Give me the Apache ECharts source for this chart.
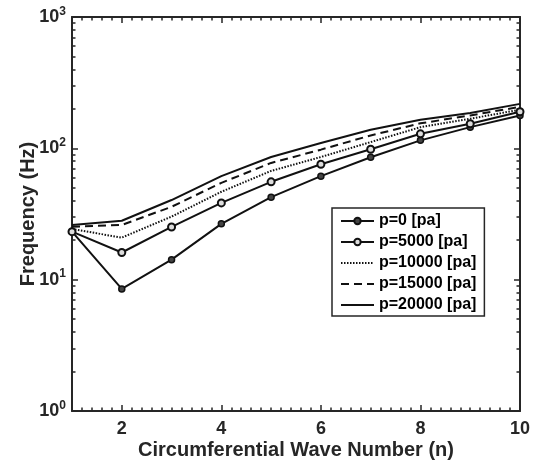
<!DOCTYPE html>
<html>
<head>
<meta charset="utf-8">
<script src="https://cdn.jsdelivr.net/npm/echarts@6/dist/echarts.min.js"></script>
<style>html,body{margin:0;padding:0;background:#fff;}#c{width:536px;height:465px;}</style>
</head>
<body>
<div id="c"></div>
<script>
// ---- data ----
const waveNumbers = [1, 2, 3, 4, 5, 6, 7, 8, 9, 10];
const p0     = [23.2, 8.5, 14.2, 26.6, 42.5, 61.4, 85.5, 115, 145, 178];
const p5000  = [23.2, 16.1, 25.2, 38.4, 55.6, 75.6, 98.4, 129, 154, 190];
const p10000 = [24.3, 20.9, 30.2, 46.7, 67.3, 85.9, 111.6, 145, 168, 197];
const p15000 = [25.3, 26.1, 35.9, 54.6, 77.4, 97.7, 125.4, 155, 178, 207];
const p20000 = [26.1, 28.1, 40.4, 61.4, 85.9, 109.7, 138.5, 165, 186, 218];
const seriesNames = ['p=0 [pa]', 'p=5000 [pa]', 'p=10000 [pa]', 'p=15000 [pa]', 'p=20000 [pa]'];
const xTickLabels = [2, 4, 6, 8, 10];
const yTickLabels = [1, 10, 100, 1000];

// minor tick positions
const xMinor = [];
for (let i = 5; i <= 50; i++) { const v = i / 5; if (xTickLabels.indexOf(v) < 0) xMinor.push(v); }
const yMinor = [];
[1, 10, 100].forEach(d => { for (let k = 2; k <= 9; k++) yMinor.push(k * d); });

const FONT = 'Arial, "Liberation Sans", sans-serif';
const AX = '#262626';
const pair = (arr) => waveNumbers.map((x, i) => [x, arr[i]]);

const chart = echarts.init(document.getElementById('c'));
const baseX = { type: 'value', min: 1, max: 10, gridIndex: 0, splitLine: { show: false } };
const baseY = { type: 'log', logBase: 10, min: 1, max: 1000, gridIndex: 0, splitLine: { show: false } };
const noLine = { show: false };
const line = { show: true, onZero: false, lineStyle: { color: AX, width: 2 } };

chart.setOption({
  animation: false,
  backgroundColor: '#fff',
  grid: { left: 72, right: 16, top: 17, bottom: 52, containLabel: false },
  xAxis: [
    Object.assign({}, baseX, {
      position: 'bottom',
      axisLine: line,
      axisTick: { show: true, inside: true, length: 6, customValues: xTickLabels, lineStyle: { color: AX, width: 1.5 } },
      axisLabel: { show: true, customValues: xTickLabels, margin: 9, color: '#262626', fontFamily: FONT, fontWeight: 'bold', fontSize: 18 },
      name: 'Circumferential Wave Number (n)', nameLocation: 'middle', nameGap: 29, nameMoveOverlap: false,
      nameTextStyle: { color: '#262626', fontFamily: FONT, fontWeight: 'bold', fontSize: 20 }
    }),
    Object.assign({}, baseX, {
      position: 'bottom', axisLine: noLine,
      axisTick: { show: true, inside: true, length: 3.5, customValues: xMinor, lineStyle: { color: AX, width: 1.5 } },
      axisLabel: { show: false }
    }),
    Object.assign({}, baseX, {
      position: 'top', axisLine: line,
      axisTick: { show: true, inside: true, length: 6, customValues: xTickLabels, lineStyle: { color: AX, width: 1.5 } },
      axisLabel: { show: false }
    }),
    Object.assign({}, baseX, {
      position: 'top', axisLine: noLine,
      axisTick: { show: true, inside: true, length: 3.5, customValues: xMinor, lineStyle: { color: AX, width: 1.5 } },
      axisLabel: { show: false }
    })
  ],
  yAxis: [
    Object.assign({}, baseY, {
      position: 'left', axisLine: line,
      axisTick: { show: true, inside: true, length: 6, customValues: yTickLabels, lineStyle: { color: AX, width: 1.5 } },
      axisLabel: {
        show: true, customValues: yTickLabels, margin: 6,
        formatter: v => '{b|10}{s|' + Math.round(Math.log10(v)) + '}',
        rich: {
          b: { color: '#262626', fontFamily: FONT, fontWeight: 'bold', fontSize: 18 },
          s: { color: '#262626', fontFamily: FONT, fontWeight: 'bold', fontSize: 12, padding: [0, 0, 11, 0] }
        }
      },
      name: 'Frequency (Hz)', nameLocation: 'middle', nameGap: 34, nameMoveOverlap: false,
      nameTextStyle: { color: '#262626', fontFamily: FONT, fontWeight: 'bold', fontSize: 20 }
    }),
    Object.assign({}, baseY, {
      position: 'left', axisLine: noLine,
      axisTick: { show: true, inside: true, length: 3.5, customValues: yMinor, lineStyle: { color: AX, width: 1.5 } },
      axisLabel: { show: false }
    }),
    Object.assign({}, baseY, {
      position: 'right', axisLine: line,
      axisTick: { show: true, inside: true, length: 6, customValues: yTickLabels, lineStyle: { color: AX, width: 1.5 } },
      axisLabel: { show: false }
    }),
    Object.assign({}, baseY, {
      position: 'right', axisLine: noLine,
      axisTick: { show: true, inside: true, length: 3.5, customValues: yMinor, lineStyle: { color: AX, width: 1.5 } },
      axisLabel: { show: false }
    })
  ],
  legend: {
    orient: 'vertical', left: 332, top: 208,
    itemWidth: 33, itemHeight: 8, itemGap: 5,
    padding: [5, 8, 3, 8],
    borderColor: AX, borderWidth: 1.5, backgroundColor: '#fff',
    textStyle: { color: '#000', fontFamily: FONT, fontWeight: 'bold', fontSize: 16 },
    data: [
      { name: seriesNames[0] },
      { name: seriesNames[1] },
      { name: seriesNames[2], itemStyle: { opacity: 0 } },
      { name: seriesNames[3], itemStyle: { opacity: 0 } },
      { name: seriesNames[4], itemStyle: { opacity: 0 } }
    ]
  },
  series: [
    { name: seriesNames[0], type: 'line', data: pair(p0), symbol: 'circle', symbolSize: 6,
      lineStyle: { color: '#111', width: 2 }, itemStyle: { color: '#444', borderColor: '#111', borderWidth: 1.5 } },
    { name: seriesNames[1], type: 'line', data: pair(p5000), symbol: 'circle', symbolSize: 7,
      lineStyle: { color: '#111', width: 2 }, itemStyle: { color: '#ddd', borderColor: '#111', borderWidth: 2 } },
    { name: seriesNames[2], type: 'line', data: pair(p10000), symbol: 'none', showSymbol: false,
      lineStyle: { color: '#111', width: 2, type: [1.5, 1.5] }, itemStyle: { color: '#111' } },
    { name: seriesNames[3], type: 'line', data: pair(p15000), symbol: 'none', showSymbol: false,
      lineStyle: { color: '#111', width: 2, type: [8, 5] }, itemStyle: { color: '#111' } },
    { name: seriesNames[4], type: 'line', data: pair(p20000), symbol: 'none', showSymbol: false,
      lineStyle: { color: '#111', width: 2 }, itemStyle: { color: '#111' } }
  ]
});
</script>
</body>
</html>
